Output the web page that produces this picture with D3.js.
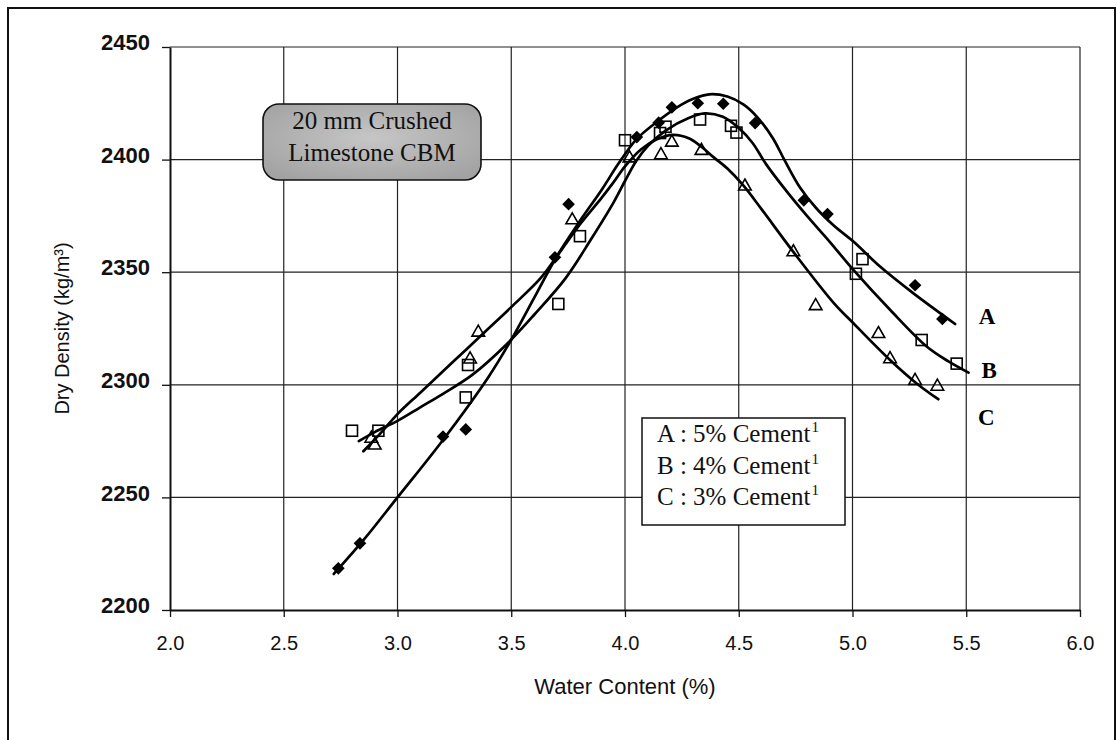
<!DOCTYPE html>
<html>
<head>
<meta charset="utf-8">
<script src="https://cdn.jsdelivr.net/npm/d3@7"></script>
<style>
  html, body { margin: 0; padding: 0; background: #fff; }
  svg { display: block; }
</style>
</head>
<body>
<svg id="chart" width="1117" height="740"></svg>
<script>
// Tick values
const xTicks = [2.0, 2.5, 3.0, 3.5, 4.0, 4.5, 5.0, 5.5, 6.0];
const yTicks = [2200, 2250, 2300, 2350, 2400, 2450];

// Measured points: [water content %, dry density kg/m3]
const pointsA = [[2.74,2218.5],[2.835,2229.6],[3.20,2277],[3.30,2280.2],[3.692,2356.6],[3.752,2380.2],
  [4.052,2410],[4.148,2416.4],[4.206,2423.2],[4.32,2425],[4.432,2424.8],[4.572,2416.2],
  [4.786,2381.9],[4.89,2375.8],[5.275,2344.2],[5.395,2329.2]];
const pointsB = [[2.80,2279.6],[2.916,2279.6],[3.30,2294.4],[3.31,2308.8],[3.707,2335.9],[3.802,2366],
  [4.0,2408.6],[4.154,2411.8],[4.178,2414.6],[4.33,2417.8],[4.466,2415],[4.49,2412],
  [5.015,2349.3],[5.044,2355.8],[5.304,2319.9],[5.458,2309.4]];
const pointsC = [[2.885,2276.5],[2.90,2273.5],[3.319,2311.7],[3.355,2323.6],[3.768,2373.5],[4.02,2401],
  [4.158,2402.4],[4.206,2408],[4.336,2404.3],[4.527,2388.5],[4.74,2359.3],[4.838,2335.4],
  [5.114,2323],[5.165,2311.8],[5.275,2302.2],[5.373,2299.6]];

// Trend curves
const curveA = [[2.72,2216],[2.85,2231],[3.0,2250],[3.2,2275.5],[3.4,2303.5],[3.5,2320],[3.6,2338.5],
  [3.7,2357],[3.8,2372.5],[3.9,2387],[3.97,2398],[4.05,2409],[4.15,2417.5],[4.25,2424.5],[4.3,2427],
  [4.37,2429],[4.45,2428],[4.52,2424.5],[4.58,2419],[4.65,2409.5],[4.7,2400],[4.77,2387.5],
  [4.84,2378.5],[4.92,2370.5],[5.004,2363.6],[5.121,2352.5],[5.268,2340.6],[5.451,2327]];
const curveB = [[2.83,2275],[2.9,2279],[3.0,2284],[3.1,2290],[3.2,2296],[3.33,2304.5],[3.48,2318],
  [3.6,2331],[3.74,2347.5],[3.85,2364.5],[3.95,2381],[4.0,2390.5],[4.05,2399.5],[4.1,2406],
  [4.18,2413],[4.28,2418.5],[4.35,2420.5],[4.43,2419],[4.5,2414],[4.56,2407.5],[4.62,2398],
  [4.71,2386],[4.8,2375],[4.9,2363.5],[5.004,2351],[5.165,2333.3],[5.326,2317],[5.42,2310.5],[5.51,2305.4]];
const curveC = [[2.85,2270.5],[2.93,2279],[3.0,2287],[3.1,2296.5],[3.2,2306],[3.3,2315.5],[3.4,2325],
  [3.5,2334.5],[3.626,2347],[3.69,2355.5],[3.8,2371],[3.897,2383],[3.95,2390],[4.0,2397],[4.07,2404.5],
  [4.14,2409],[4.21,2411],[4.28,2409.5],[4.336,2405.7],[4.39,2401],[4.45,2396],[4.52,2388.5],
  [4.6,2378],[4.74,2359],[4.916,2336.5],[5.004,2327.3],[5.165,2311],[5.282,2300.6],[5.377,2293.6]];

const legendLines = ["A : 5% Cement", "B : 4% Cement", "C : 3% Cement"];
const curveLabels = [
  {text: "A", x: 5.555, y: 2327},
  {text: "B", x: 5.567, y: 2303},
  {text: "C", x: 5.552, y: 2282}
];

const svg = d3.select("#chart");
const x = d3.scaleLinear().domain([2, 6]).range([170, 1080]);
const y = d3.scaleLinear().domain([2200, 2450]).range([610, 47]);

// outer frame
svg.append("rect").attr("x", 8).attr("y", 8).attr("width", 1107).attr("height", 760)
  .attr("fill", "none").attr("stroke", "#111").attr("stroke-width", 2);

// gridlines
const grid = svg.append("g").attr("stroke", "#222").attr("stroke-width", 1.2);
grid.selectAll("line.v").data(xTicks.slice(1)).join("line")
  .attr("x1", d => x(d)).attr("x2", d => x(d)).attr("y1", y(2450)).attr("y2", y(2200));
grid.selectAll("line.h").data(yTicks.slice(1)).join("line")
  .attr("x1", x(2)).attr("x2", x(6)).attr("y1", d => y(d)).attr("y2", d => y(d));

// axes
const xAxis = svg.append("g").attr("transform", `translate(0,${y(2200)})`)
  .call(d3.axisBottom(x).tickValues(xTicks).tickFormat(d3.format(".1f")).tickSize(7).tickSizeOuter(0));
const yAxis = svg.append("g").attr("transform", `translate(${x(2)},0)`)
  .call(d3.axisLeft(y).tickValues(yTicks).tickFormat(d3.format("d")).tickSize(8).tickSizeOuter(0));
[xAxis, yAxis].forEach(g => {
  g.select(".domain").attr("stroke", "#111").attr("stroke-width", 2);
  g.selectAll(".tick line").attr("stroke", "#111").attr("stroke-width", 1.3);
});
xAxis.selectAll(".tick text").attr("font-family", "Liberation Sans, Arial, sans-serif")
  .attr("font-size", 20).attr("fill", "#111").attr("y", 26).attr("dy", "0.71em");
yAxis.selectAll(".tick text").attr("font-family", "Liberation Sans, Arial, sans-serif")
  .attr("font-size", 22).attr("font-weight", "bold").attr("fill", "#111").attr("x", -20).attr("dy", "0.12em");

// axis titles
svg.append("text").attr("x", x(4)).attr("y", 694).attr("text-anchor", "middle")
  .attr("font-family", "Liberation Sans, Arial, sans-serif").attr("font-size", 22).attr("fill", "#111")
  .text("Water Content (%)");
svg.append("text").attr("transform", `translate(69,${(y(2200)+y(2450))/2}) rotate(-90)`)
  .attr("text-anchor", "middle").attr("font-family", "Liberation Sans, Arial, sans-serif")
  .attr("font-size", 20).attr("fill", "#111")
  .text("Dry Density (kg/m³)");

// trend curves
const line = d3.line().x(d => x(d[0])).y(d => y(d[1])).curve(d3.curveCatmullRom.alpha(0.5));
svg.append("g").selectAll("path").data([curveA, curveB, curveC]).join("path")
  .attr("d", line).attr("fill", "none").attr("stroke", "#000").attr("stroke-width", 2.7)
  .attr("stroke-linejoin", "round").attr("stroke-linecap", "round");

// markers
svg.append("g").selectAll("path").data(pointsA).join("path")
  .attr("transform", d => `translate(${x(d[0])},${y(d[1])}) rotate(45)`)
  .attr("d", d3.symbol(d3.symbolSquare, 80)).attr("fill", "#000");
svg.append("g").selectAll("rect").data(pointsB).join("rect")
  .attr("x", d => x(d[0]) - 5.5).attr("y", d => y(d[1]) - 5.5).attr("width", 11).attr("height", 11)
  .attr("fill", "none").attr("stroke", "#000").attr("stroke-width", 1.6);
svg.append("g").selectAll("path").data(pointsC).join("path")
  .attr("transform", d => `translate(${x(d[0])},${y(d[1])})`)
  .attr("d", "M0,-6.5L6.3,4.5L-6.3,4.5Z").attr("fill", "none").attr("stroke", "#000").attr("stroke-width", 1.6);

// curve labels
svg.append("g").selectAll("text").data(curveLabels).join("text")
  .attr("x", d => x(d.x)).attr("y", d => y(d.y))
  .attr("font-family", "Liberation Serif, Times New Roman, serif").attr("font-weight", "bold")
  .attr("font-size", 23).attr("fill", "#000").text(d => d.text);

// title box
const defs = svg.append("defs");
const grad = defs.append("radialGradient").attr("id", "boxShade").attr("cx", "50%").attr("cy", "45%").attr("r", "65%");
grad.append("stop").attr("offset", "0%").attr("stop-color", "#c6c6c6");
grad.append("stop").attr("offset", "100%").attr("stop-color", "#a2a2a2");
svg.append("rect").attr("x", 263).attr("y", 104).attr("width", 218).attr("height", 76).attr("rx", 16)
  .attr("fill", "url(#boxShade)").attr("stroke", "#111").attr("stroke-width", 1.6);
svg.append("text").attr("x", 372).attr("y", 129).attr("text-anchor", "middle")
  .attr("font-family", "Liberation Serif, Times New Roman, serif").attr("font-size", 25).attr("fill", "#111")
  .text("20 mm Crushed");
svg.append("text").attr("x", 372).attr("y", 161).attr("text-anchor", "middle")
  .attr("font-family", "Liberation Serif, Times New Roman, serif").attr("font-size", 25).attr("fill", "#111")
  .text("Limestone CBM");

// legend box
svg.append("rect").attr("x", 642).attr("y", 418).attr("width", 203).attr("height", 107)
  .attr("fill", "#fff").attr("stroke", "#111").attr("stroke-width", 1.5);
const lg = svg.append("g").selectAll("text").data(legendLines).join("text")
  .attr("x", 657).attr("y", (d, i) => 442 + i * 31.5)
  .attr("font-family", "Liberation Serif, Times New Roman, serif").attr("font-size", 25).attr("fill", "#111");
lg.append("tspan").text(d => d);
lg.append("tspan").attr("font-size", 15).attr("dy", -10).attr("dx", 1).text("1");
</script>
</body>
</html>
